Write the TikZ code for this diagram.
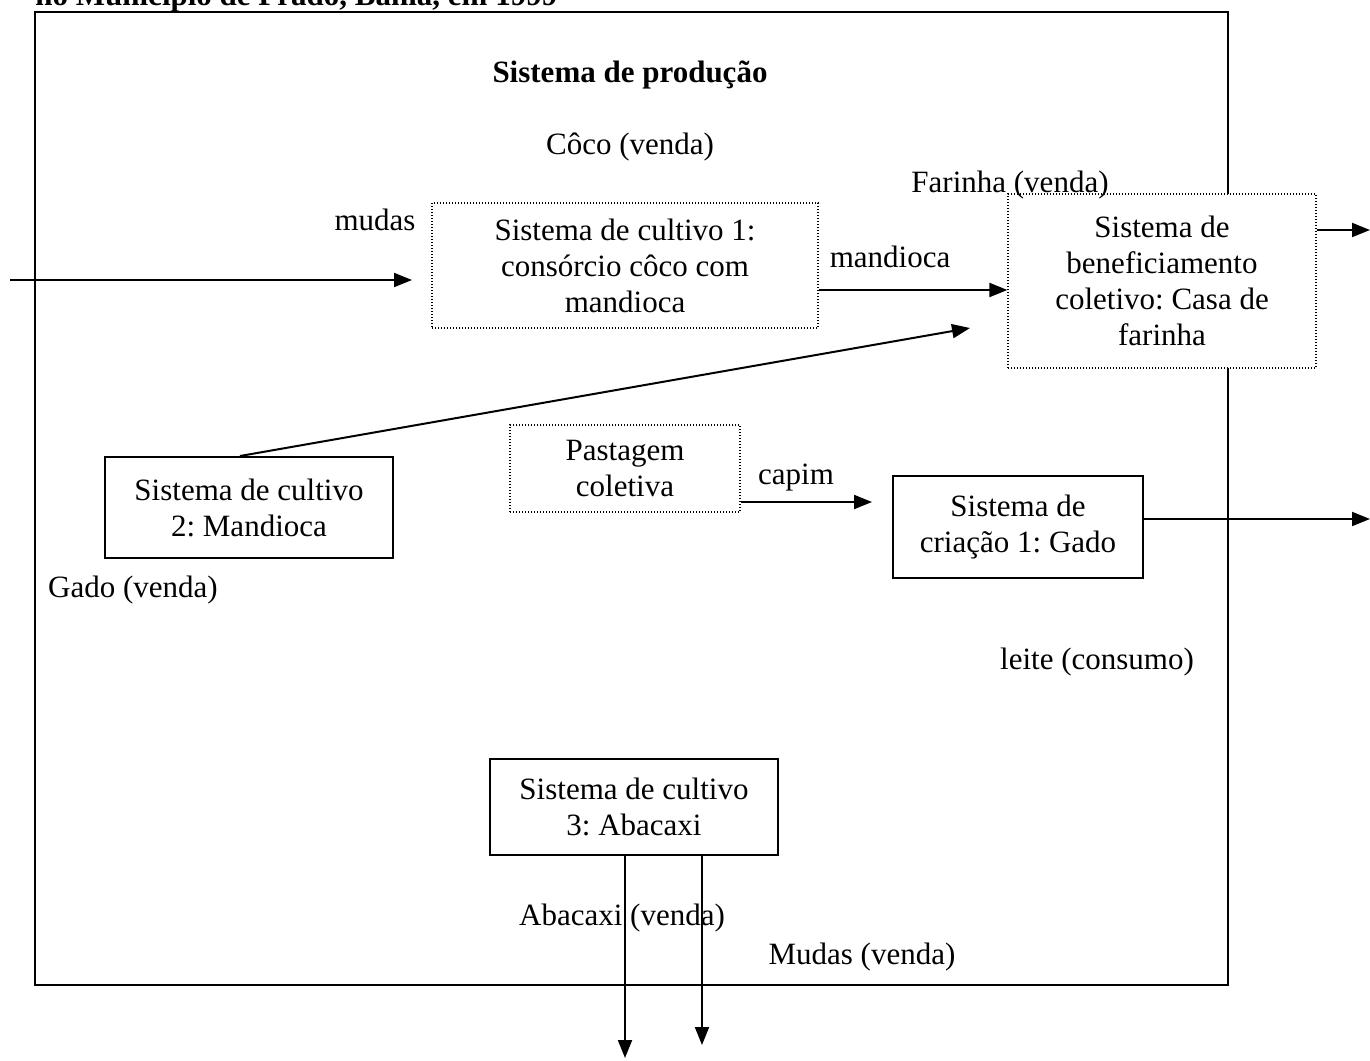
\documentclass[tikz,border=0pt]{standalone}
\usepackage{fontspec}
\setmainfont{Liberation Serif}
\frenchspacing
\usetikzlibrary{arrows.meta}

\begin{document}
\begin{tikzpicture}[x=0.5pt, y=-0.5pt, >={Triangle[length=9pt,width=7pt]},
        every node/.style={font=\fontsize{15.5}{18}\selectfont, align=center, inner sep=0pt},
        solidbox/.style={draw, line width=1pt, fill=white},
        dotbox/.style={draw, line width=0.6pt, dash pattern=on 0.5pt off 1pt, fill=white},
        flow/.style={->, line width=1pt}]
        \useasboundingbox (0,0) rectangle (1370,1060);

        % moldura do sistema
        \node[draw, line width=1pt, minimum width=596.5pt, minimum height=486.5pt] (frame) at (631.5,498.5) {};
        \node[anchor=base west, font=\fontsize{15.5}{18}\selectfont\bfseries] (title) at (35,5) {no Município de Prado, Bahia, em 1999};

        \node[dotbox, minimum width=193pt, minimum height=62.5pt] (c1) at (625,265.5) {Sistema de cultivo 1:\\consórcio côco com\\mandioca};
        \node[dotbox, minimum width=154pt, minimum height=87pt] (benef) at (1162,281) {Sistema de\\beneficiamento\\coletivo: Casa de\\farinha};
        \node[solidbox, minimum width=144pt, minimum height=50.5pt] (c2) at (249,507.5) {Sistema de cultivo\\2: Mandioca};
        \node[dotbox, minimum width=115pt, minimum height=43.5pt] (past) at (625,468.5) {Pastagem\\coletiva};
        \node[solidbox, minimum width=125pt, minimum height=51pt] (gado) at (1018,527) {Sistema de\\criação 1: Gado};
        \node[solidbox, minimum width=144pt, minimum height=48pt] (c3) at (634,807) {Sistema de cultivo\\3: Abacaxi};

        \node[font=\fontsize{15.5}{18}\selectfont\bfseries] (prod) at (630,75) {Sistema de produção};
        \node (coco) at (630,147) {Côco (venda)};
        \node (farinha) at (1010,185) {Farinha (venda)};
        \node (mudas) at (375,220) {mudas};
        \node (mand) at (890,257) {mandioca};
        \node (gvenda) at (133,590) {Gado (venda)};
        \node (capim) at (796,478) {capim};
        \node (leite) at (1097,662) {leite (consumo)};
        \node (abacaxi) at (622,918) {Abacaxi (venda)};
        \node (mvenda) at (862,957) {Mudas (venda)};

        \coordinate (inA) at (10,280);
        \coordinate (inB) at (412,280);
        \coordinate (outF) at (1370,230);
        \coordinate (outG) at (1370,519);
        \coordinate (toB) at (970,328);
        \coordinate (outA) at (625,1058);
        \coordinate (outM) at (702,1045);

        \draw[flow] (inA) -- (inB);
        \draw[flow] ([yshift=-12.25pt]c1.east) -- ([yshift=-4.5pt]benef.west);
        \draw[flow] ([yshift=25.5pt]benef.east) -- (outF);
        \draw[flow] ([xshift=-4.5pt]c2.north) -- (toB);
        \draw[flow] ([yshift=-16.75pt]past.east) -- ([xshift=-10pt, yshift=12.5pt]gado.west);
        \draw[flow] ([yshift=4pt]gado.east) -- (outG);
        \draw[flow] (c3.south -| outA) -- (outA);
        \draw[flow] (c3.south -| outM) -- (outM);
    \end{tikzpicture}
\end{document}
